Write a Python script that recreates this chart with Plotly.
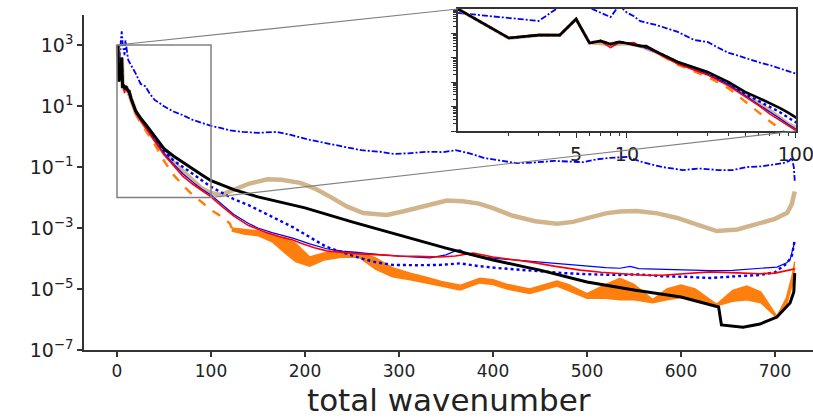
import plotly.graph_objects as go

# ---------------- data (log10 of spectral values) ----------------
black_k = [1,2,3,4,5,6,7,8,9,10,12,13,15,20,25,30,40,50,60,70,80,90,100,125,150,175,200,250,300,350,400,450,500,550,600,640,643,666,684,702,716,720,721]
black_log = [3,1.81,1.93,1.93,2.59,1.6,1.69,1.56,1.65,1.6,1.48,1.48,1.24,0.83,0.6,0.42,0.0,-0.4,-0.64,-0.85,-1.05,-1.25,-1.45,-1.75,-1.98,-2.17,-2.34,-2.8,-3.23,-3.66,-4.05,-4.38,-4.77,-5.03,-5.26,-5.59,-6.18,-6.25,-6.15,-5.92,-5.46,-5.1,-4.48]

red_k = [1,2,3,4,5,6,7,8,9,10,11,12,13,15,20,25,30,40,50,60,70,80,90,100,112,124,140,150,160,175,187,195,210,223,240,258,280,300,320,344,360,379,400,420,439,465,493,515,535,560,580,605,631,660,684,700,710,718,721]
red_log = [3,1.82,1.95,1.94,2.58,1.62,1.68,1.42,1.62,1.6,1.62,1.47,1.45,1.2,0.75,0.52,0.3,-0.15,-0.6,-0.95,-1.3,-1.55,-1.78,-1.98,-2.3,-2.6,-2.92,-3.05,-3.16,-3.3,-3.39,-3.49,-3.65,-3.75,-3.8,-3.85,-3.88,-3.92,-3.93,-3.95,-3.92,-3.82,-3.95,-4.02,-4.11,-4.25,-4.38,-4.45,-4.5,-4.55,-4.55,-4.5,-4.44,-4.47,-4.5,-4.48,-4.42,-4.38,-4.34]

bsolid_k = [1,2,3,4,5,6,7,8,9,10,12,15,20,30,40,50,60,70,80,90,100,112,124,140,150,165,187,205,223,240,258,280,300,333,350,360,365,372,385,404,430,450,480,500,520,535,546,555,580,605,631,655,680,702,712,716,718,721]
bsolid_log = [3,1.81,1.93,1.93,2.58,1.62,1.69,1.56,1.64,1.6,1.5,1.22,0.78,0.33,-0.1,-0.55,-0.9,-1.22,-1.48,-1.72,-1.92,-2.25,-2.55,-2.85,-3.0,-3.15,-3.33,-3.52,-3.68,-3.76,-3.82,-3.87,-3.92,-3.98,-3.88,-3.75,-3.72,-3.85,-3.95,-4.0,-4.05,-4.1,-4.2,-4.25,-4.3,-4.32,-4.26,-4.33,-4.36,-4.38,-4.4,-4.39,-4.34,-4.28,-4.15,-4.05,-3.8,-3.46]

bdot_k = [1,2,3,4,5,6,7,8,9,10,12,15,20,30,40,50,60,70,80,90,100,112,124,140,152,170,187,205,223,240,258,275,293,320,344,365,385,404,440,475,505,535,555,580,605,631,660,684,700,713,718,721]
bdot_log = [3,1.81,1.93,1.93,2.58,1.62,1.69,1.56,1.65,1.6,1.5,1.25,0.82,0.4,-0.05,-0.48,-0.78,-1.0,-1.22,-1.45,-1.65,-1.85,-2.05,-2.25,-2.44,-2.7,-2.97,-3.3,-3.62,-3.8,-3.98,-4.12,-4.21,-4.22,-4.21,-4.16,-4.25,-4.31,-4.4,-4.48,-4.52,-4.54,-4.52,-4.58,-4.6,-4.64,-4.58,-4.54,-4.45,-4.15,-3.9,-3.4]

bdash_k = [1,2,3,4,5,6,7,8,9,10,11,12,15,20,25,30,35,40,45,50,60,70,80,90,100,110,120,134,150,170,185,205,220,241,260,280,294,310,330,347,360,375,390,410,425,445,465,480,496,510,525,543,560,580,602,620,640,655,670,685,700,709,715,718,720,721]
bdash_log = [2.84,2.63,2.51,3.1,3.45,3.05,2.85,2.67,3.15,2.85,2.7,2.5,2.34,2.06,1.73,1.65,1.4,1.2,1.1,0.99,0.82,0.7,0.55,0.45,0.35,0.28,0.2,0.15,0.12,0.15,0.05,-0.11,-0.2,-0.34,-0.45,-0.5,-0.57,-0.55,-0.5,-0.51,-0.45,-0.55,-0.7,-0.8,-0.87,-0.85,-0.8,-0.82,-0.84,-0.75,-0.7,-0.67,-0.85,-1.0,-1.1,-1.05,-1.1,-1.1,-1.0,-0.98,-0.9,-0.87,-0.8,-0.7,-1.0,-1.45]

tan_k = [1,2,3,4,5,6,8,10,12,15,20,30,40,50,60,70,80,90,100,110,120,140,160,175,195,210,227,245,262,287,305,322,340,351,368,385,400,421,445,468,485,500,520,535,553,575,596,618,638,660,684,700,713,718,721]
tan_log = [3,1.8,1.92,1.92,2.58,1.62,1.55,1.58,1.48,1.22,0.8,0.35,-0.1,-0.5,-0.85,-1.15,-1.45,-1.7,-1.85,-1.92,-1.8,-1.55,-1.4,-1.42,-1.52,-1.7,-1.98,-2.3,-2.51,-2.57,-2.45,-2.31,-2.18,-2.1,-2.12,-2.2,-2.35,-2.6,-2.78,-2.86,-2.8,-2.67,-2.52,-2.46,-2.44,-2.52,-2.67,-2.9,-3.1,-3.05,-2.84,-2.7,-2.5,-2.2,-1.8]

orange_k = [1,2,3,4,5,6,7,8,9,10,12,15,20,25,30,40,50,60,70,80,90,100,110,120,122]
orange_log = [3,1.81,1.93,1.93,2.58,1.62,1.7,1.6,1.64,1.6,1.47,1.2,0.72,0.45,0.22,-0.25,-0.8,-1.25,-1.6,-1.9,-2.15,-2.41,-2.6,-2.85,-3.0]

oband_k = [122,135,150,165,180,190,205,220,240,258,275,293,312,330,345,365,386,400,415,439,468,480,500,520,535,550,570,585,600,615,638,655,670,685,702,712,718,721]
oband_hi = [-3.0,-3.05,-3.1,-3.25,-3.35,-3.5,-3.95,-3.82,-3.78,-3.8,-3.98,-4.3,-4.48,-4.62,-4.75,-4.88,-4.65,-4.7,-4.85,-5.0,-4.74,-4.85,-5.15,-4.85,-4.65,-4.85,-5.35,-5.0,-4.87,-5.0,-5.5,-5.05,-4.9,-5.1,-5.9,-5.3,-4.6,-4.1]
oband_lo = [-3.1,-3.2,-3.25,-3.45,-3.85,-4.1,-4.25,-4.05,-3.95,-3.97,-4.35,-4.6,-4.7,-4.8,-4.9,-5.03,-4.8,-4.85,-5.0,-5.15,-4.9,-5.05,-5.3,-5.3,-5.35,-5.35,-5.45,-5.35,-5.28,-5.35,-5.55,-5.4,-5.35,-5.45,-5.95,-5.55,-4.9,-4.3]

main_xticks = [0,100,200,300,400,500,600,700]
main_yticks_exp = [-7,-5,-3,-1,1,3]
inset_xticks = [5,10,100]
x_title = "total wavenumber"

# ---------------- styling / layout ----------------
W, H = 813, 419
ML, MR, MT, MB = 84, 0, 9, 69
PW, PH = W - ML - MR, H - MT - MB
X_RANGE = [(84 - 117) / 0.94, (813 - 117) / 0.94]
MAIN_DOM_Y = [0, 335 / 341]
Y_RANGE = [-7, -7 + 335 / 30.5]
INSET_DOM_X = [(458 - 84) / PW, (796 - 84) / PW]
INSET_DOM_Y = [(350 - 131) / PH, 1.0]
INSET_XR = [0, 2.0006]
INSET_YR = [-2, 3]
ZOOM_BOX = (0, 100, -2, 3)  # x0,x1 (data), log y0, log y1

BLUE, RED, BLACK = "#0000ff", "#ff0000", "#000000"
ORANGE, TAN = "#ff7f0e", "#d2b48c"
FONT = "DejaVu Sans"
AXC = "#333333"


def lin(v):
    return [10 ** a for a in v]


fig = go.Figure()


def add(k, lv, color, width, dash="solid", inset=False, kmax=None, **kw):
    if kmax is not None:
        pairs = [(a, b) for a, b in zip(k, lv) if a <= kmax]
        k = [p[0] for p in pairs]
        lv = [p[1] for p in pairs]
    fig.add_trace(go.Scatter(
        x=k, y=lin(lv), mode="lines",
        line=dict(color=color, width=width, dash=dash),
        xaxis="x2" if inset else "x", yaxis="y2" if inset else "y",
        showlegend=False, hoverinfo="skip", **kw))


for inset in (False, True):
    km = 140 if inset else None
    add(bdash_k, bdash_log, BLUE, 1.8, "6px,2px,2px,2px", inset, km)
    add(orange_k, orange_log, ORANGE, 2.5, "dash", inset, km)
    if not inset:
        add(oband_k, oband_lo, ORANGE, 1.5, "solid", False)
        add(oband_k, oband_hi, ORANGE, 1.5, "solid", False,
            fill="tonexty", fillcolor=ORANGE)
    add(tan_k, tan_log, TAN, 4.5 if not inset else 3.5, "solid", inset, km)
    add(bdot_k, bdot_log, BLUE, 2.4, "dot", inset, km)
    add(bsolid_k, bsolid_log, BLUE, 1.2, "solid", inset, km)
    add(red_k, red_log, RED, 1.6, "solid", inset, km)
    add(black_k, black_log, BLACK, 3 if not inset else 2.6, "solid", inset, km)


def px_x(x):
    return (x - X_RANGE[0]) / (X_RANGE[1] - X_RANGE[0])


def px_y(ly):
    return MAIN_DOM_Y[0] + (ly - Y_RANGE[0]) / (Y_RANGE[1] - Y_RANGE[0]) * (MAIN_DOM_Y[1] - MAIN_DOM_Y[0])


bx0, bx1, by0, by1 = px_x(ZOOM_BOX[0]), px_x(ZOOM_BOX[1]), px_y(ZOOM_BOX[2]), px_y(ZOOM_BOX[3])
GRAY = "#808080"
shapes = [
    dict(type="rect", xref="paper", yref="paper", x0=bx0, x1=bx1, y0=by0, y1=by1,
         line=dict(color=GRAY, width=1.5)),
    dict(type="line", xref="paper", yref="paper", x0=bx0, y0=by1,
         x1=INSET_DOM_X[0], y1=INSET_DOM_Y[1], line=dict(color=GRAY, width=1.2)),
    dict(type="line", xref="paper", yref="paper", x0=bx1, y0=by0,
         x1=INSET_DOM_X[1], y1=INSET_DOM_Y[0], line=dict(color=GRAY, width=1.2)),
]

ytext = ["10<sup>%s</sup>" % (str(e).replace("-", "\u2212")) for e in main_yticks_exp]

minor_x = [m * d for d in (1, 10) for m in range(2, 10)]
minor_y = [m * 10 ** d for d in range(-2, 3) for m in range(2, 10)]

fig.add_annotation(text=x_title, xref="paper", yref="paper",
                   x=0.5, y=(350 - 400) / PH, xanchor="center", yanchor="middle",
                   showarrow=False, font=dict(size=31, family=FONT, color="#222222"))

fig.update_layout(
    width=W, height=H,
    margin=dict(l=ML, r=MR, t=MT, b=MB, pad=0, autoexpand=False),
    paper_bgcolor="white", plot_bgcolor="white",
    font=dict(family=FONT, color="#222222", size=18),
    shapes=shapes,
    xaxis=dict(range=X_RANGE, domain=[0, 1], showline=True, linecolor=AXC, linewidth=1.5,
               ticks="outside", ticklen=5, tickwidth=1.5, tickcolor=AXC,
               tickvals=main_xticks, showgrid=False, zeroline=False, automargin=False,
               tickfont=dict(size=17), anchor="y"),
    yaxis=dict(type="log", range=Y_RANGE, domain=MAIN_DOM_Y, showline=True, linecolor=AXC,
               linewidth=1.5, ticks="outside", ticklen=5, tickwidth=1.5, tickcolor=AXC,
               tickvals=[10 ** e for e in main_yticks_exp], ticktext=ytext, automargin=False,
               showgrid=False, zeroline=False, tickfont=dict(size=19), anchor="x"),
    xaxis2=dict(type="log", range=INSET_XR, domain=INSET_DOM_X, anchor="y2",
                showline=True, mirror=True, linecolor=AXC, linewidth=1.5,
                ticks="outside", ticklen=5, tickwidth=1.2, tickcolor=AXC,
                tickvals=inset_xticks, ticktext=[str(v) for v in inset_xticks],
                ticklabeloverflow="allow", automargin=False,
                minor=dict(ticks="outside", ticklen=3, tickcolor=AXC, tickvals=minor_x),
                showgrid=False, zeroline=False, tickfont=dict(size=19)),
    yaxis2=dict(type="log", range=INSET_YR, domain=INSET_DOM_Y, anchor="x2",
                showline=True, mirror=True, linecolor=AXC, linewidth=1.5,
                ticks="outside", ticklen=5, tickwidth=1.2, tickcolor=AXC,
                tickvals=[10 ** e for e in range(-2, 4)], showticklabels=False,
                automargin=False,
                minor=dict(ticks="outside", ticklen=3, tickcolor=AXC, tickvals=minor_y),
                showgrid=False, zeroline=False),
)

fig.write_html("out.html")
